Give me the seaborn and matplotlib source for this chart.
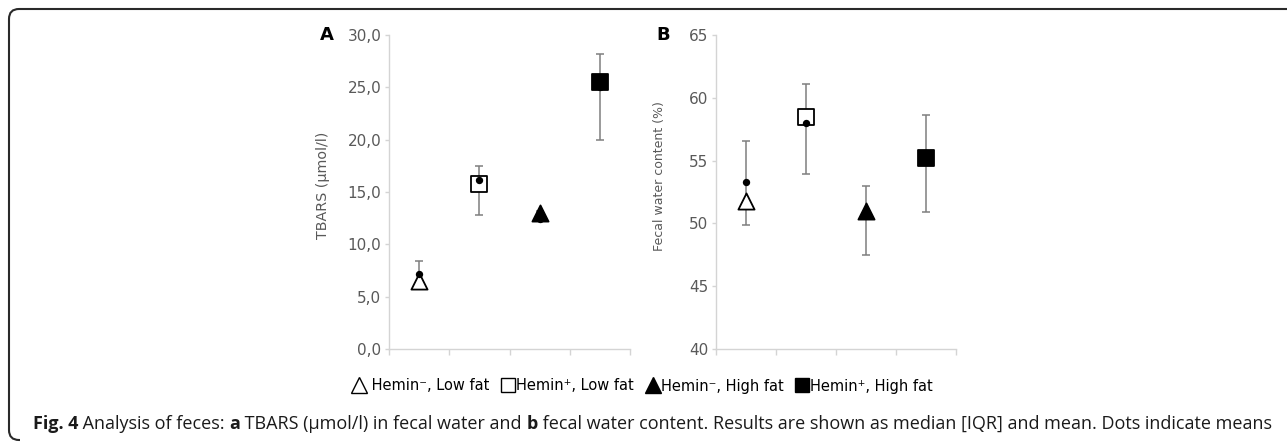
import matplotlib
matplotlib.use("Agg")
import matplotlib.pyplot as plt
import seaborn as sns
import pandas as pd
import numpy as np
from matplotlib.lines import Line2D
from matplotlib.patches import PathPatch
from matplotlib.path import Path
from matplotlib.transforms import IdentityTransform

# ---------------- data ----------------
groups = ["Hemin-, Low fat", "Hemin+, Low fat", "Hemin-, High fat", "Hemin+, High fat"]
legend_labels = ["Hemin\u207b, Low fat", "Hemin\u207a, Low fat", "Hemin\u207b, High fat", "Hemin\u207a, High fat"]
markers = ["^", "s", "^", "s"]
filled = [False, False, True, True]

tbars_median = [6.5, 15.8, 13.0, 25.5]
tbars_mean = [7.2, 16.1, 12.4, 25.0]
tbars_q1 = [5.7, 12.8, 12.6, 20.0]
tbars_q3 = [8.4, 17.5, 13.2, 28.2]

water_median = [51.8, 58.5, 51.0, 55.2]
water_mean = [53.3, 58.0, 50.8, 55.0]
water_q1 = [49.9, 53.9, 47.5, 50.9]
water_q3 = [56.6, 61.1, 53.0, 58.6]

tbars_ticks = [0, 5, 10, 15, 20, 25, 30]
tbars_ticklabels = ["0,0", "5,0", "10,0", "15,0", "20,0", "25,0", "30,0"]
water_ticks = [40, 45, 50, 55, 60, 65]
water_ticklabels = ["40", "45", "50", "55", "60", "65"]

# ---------------- style ----------------
sns.set_theme(style="white")
plt.rcParams["font.family"] = ["DejaVu Sans"]

W, H = 1287, 442
fig = plt.figure(figsize=(W / 100, H / 100), dpi=100)

GRID = "#d4d4d4"
TXT = "#595959"


def px_ax(x0, x1, y0, y1):
    return fig.add_axes([x0 / W, 1 - y1 / H, (x1 - x0) / W, (y1 - y0) / H])


def draw_panel(ax, med, mean, q1, q3, ylim, ticks, ticklabels, ylabel, ylab_fs, letter, lab_xy, letter_x):
    df = pd.DataFrame({"x": np.arange(len(groups)), "median": med, "mean": mean,
                       "q1": q1, "q3": q3, "group": groups})
    yerr = np.vstack([df["median"] - df["q1"], df["q3"] - df["median"]])
    ax.errorbar(df["x"], df["median"], yerr=yerr, fmt="none", ecolor="#7f7f7f",
                elinewidth=1.1, capsize=3.2, capthick=1.1, zorder=1)
    for i, row in df.iterrows():
        sns.scatterplot(x=[row["x"]], y=[row["median"]], marker=markers[i],
                        s=125 if markers[i] == "s" else 135,
                        color="black" if filled[i] else "white",
                        edgecolor="black", linewidth=1.3, ax=ax, zorder=3, legend=False)
    sns.scatterplot(data=df, x="x", y="mean", color="black", s=28, edgecolor="black",
                    linewidth=0, ax=ax, zorder=4, legend=False)
    ax.set_xlim(-0.5, len(groups) - 0.5)
    ax.set_ylim(*ylim)
    ax.set_xticks(np.arange(len(groups) + 1) - 0.5)
    ax.set_xticklabels([])
    ax.set_yticks(ticks)
    ax.set_yticklabels(ticklabels)
    ax.set_xlabel("")
    ax.set_ylabel(ylabel, fontsize=ylab_fs, color=TXT)
    ax.yaxis.set_label_coords(*lab_xy)
    for s in ["top", "right"]:
        ax.spines[s].set_visible(False)
    for s in ["left", "bottom"]:
        ax.spines[s].set_color(GRID)
        ax.spines[s].set_linewidth(1.0)
    ax.tick_params(axis="y", which="major", left=True, length=3.0, width=1.0, color=GRID,
                   labelsize=11, labelcolor=TXT, pad=2.5)
    ax.tick_params(axis="x", which="major", bottom=True, length=4, width=1.0, color=GRID)
    ax.set_facecolor("none")
    fig.text(letter_x / W, 1 - 35 / H, letter, fontsize=13, fontweight="bold",
             ha="left", va="center", color="black")


axA = px_ax(389, 630, 35, 349)
draw_panel(axA, tbars_median, tbars_mean, tbars_q1, tbars_q3, (0, 30), tbars_ticks,
           tbars_ticklabels, "TBARS (\u00b5mol/l)", 10.3, "A", (-0.245, (349 - 185) / 314), 320)
axB = px_ax(716, 956, 35, 349)
draw_panel(axB, water_median, water_mean, water_q1, water_q3, (40, 65), water_ticks,
           water_ticklabels, "Fecal water content (%)", 9.0, "B", (-0.21, (349 - 176) / 314), 656)

# ---------------- legend ----------------
handles = [Line2D([], [], linestyle="none", marker=m, markersize=10 if m == "s" else 11,
                  markerfacecolor="black" if f else "white", markeredgecolor="black",
                  markeredgewidth=1.0) for m, f in zip(markers, filled)]
labels_shown = [" " + legend_labels[0]] + legend_labels[1:]
fig.legend(handles, labels_shown, loc="center", bbox_to_anchor=(643 / W, 1 - 386 / H),
           ncol=4, frameon=False, fontsize=10.5, handlelength=0.8, handletextpad=0.15,
           columnspacing=0.9, borderaxespad=0, labelcolor="black")

# ---------------- frame (top and left edges with rounded corners) ----------------
r = 10
top = H - 9
left = 9
bot = 2
verts = [(W + 20, top), (left + r, top), (left, top), (left, top - r),
         (left, bot + r), (left, bot), (left + r, bot), (left + r + 1, bot)]
codes = [Path.MOVETO, Path.LINETO, Path.CURVE3, Path.CURVE3,
         Path.LINETO, Path.CURVE3, Path.CURVE3, Path.LINETO]
frame = PathPatch(Path(verts, codes), transform=IdentityTransform(), facecolor="none",
                  edgecolor="#2a2a2a", linewidth=1.5, clip_on=False, zorder=10)
fig.add_artist(frame)

# ---------------- caption ----------------
cap_parts = [("Fig. 4", "bold"), (" Analysis of feces: ", "normal"), ("a", "bold"),
             (" TBARS (\u00b5mol/l) in fecal water and ", "normal"), ("b", "bold"),
             (" fecal water content. Results are shown as median [IQR] and mean. Dots indicate means",
              "normal")]
cap_family = ["Open Sans", "DejaVu Sans"]
renderer = fig.canvas.get_renderer()


def layout_caption(fs):
    x = 33.0
    arts = []
    for t, w in cap_parts:
        a = fig.text(x / W, 1 - 424 / H, t, fontsize=fs, fontweight=w, family=cap_family,
                     color="#1a1a1a", ha="left", va="center")
        bb = a.get_window_extent(renderer=renderer)
        x = bb.x1
        arts.append(a)
    return x, arts


fs = 11.5
end, arts = layout_caption(fs)
for a in arts:
    a.remove()
fs = fs * (1273 - 33) / (end - 33)
layout_caption(fs)

fig.savefig("out.png", dpi=100)
